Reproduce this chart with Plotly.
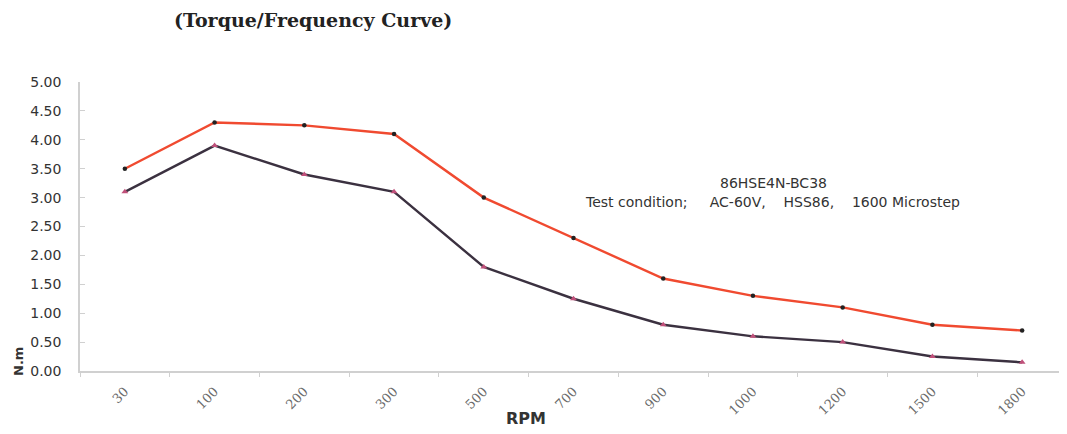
import plotly.graph_objects as go

rpm = ["30", "100", "200", "300", "500", "700", "900", "1000", "1200", "1500", "1800"]
torque_upper = [3.5, 4.3, 4.25, 4.1, 3.0, 2.3, 1.6, 1.3, 1.1, 0.8, 0.7]
torque_lower = [3.1, 3.9, 3.4, 3.1, 1.8, 1.25, 0.8, 0.6, 0.5, 0.25, 0.15]
y_ticks = [0, 0.5, 1, 1.5, 2, 2.5, 3, 3.5, 4, 4.5, 5]

# page body has an 8px margin; work in screen coordinates and convert
OFF = 8
W, H = 1067 - OFF, 434 - OFF
L, T, B, R = 80 - OFF, 82 - OFF, 371 - OFF, 1067 - OFF
PW, PH = R - L, B - T

fig = go.Figure()
fig.add_trace(go.Scatter(
    x=rpm, y=torque_upper, mode="lines+markers",
    line=dict(color="#f04a30", width=2.4),
    marker=dict(symbol="circle", size=4.5, color="#222222"),
    showlegend=False))
fig.add_trace(go.Scatter(
    x=rpm, y=torque_lower, mode="lines+markers",
    line=dict(color="#3b3140", width=2.4),
    marker=dict(symbol="triangle-up", size=6, color="#c0507a"),
    showlegend=False))

fig.update_layout(
    width=W, height=H,
    paper_bgcolor="white", plot_bgcolor="white",
    margin=dict(l=L, r=W - R, t=T, b=H - B, autoexpand=False),
    xaxis=dict(
        type="category", tickson="boundaries", ticks="outside", ticklen=4,
        tickcolor="#d0d0d0", showline=True, linecolor="#d0d0d0", linewidth=1.5,
        showgrid=False, tickangle=-45, automargin=False, ticklabelstandoff=6,
        tickfont=dict(family="DejaVu Serif, serif", size=13, color="#6a6a6a"),
        range=[-0.5, 10.5]),
    yaxis=dict(
        range=[0, 5], tickvals=y_ticks, tickformat=".2f", automargin=False,
        showline=True, linecolor="#d0d0d0", linewidth=1.5, showgrid=False,
        ticks="inside", ticklen=5, tickcolor="#d0d0d0", zeroline=False,
        ticklabelstandoff=14,
        tickfont=dict(family="DejaVu Sans, sans-serif", size=14, color="#333333")),
)

def px(x):
    return (x - OFF - L) / PW

def py(y):
    return (B - (y - OFF)) / PH

fig.add_annotation(text="<b>(Torque/Frequency Curve)</b>", xref="paper", yref="paper",
                   x=px(172), y=py(20), xanchor="left", yanchor="middle",
                   showarrow=False,
                   font=dict(family="DejaVu Serif, serif", size=19, color="#222222"))
fig.add_annotation(text="<b>RPM</b>", xref="paper", yref="paper",
                   x=px(526), y=py(418), xanchor="center", yanchor="middle",
                   showarrow=False,
                   font=dict(family="DejaVu Sans, sans-serif", size=16, color="#333333"))
fig.add_annotation(text="<b>N.m</b>", xref="paper", yref="paper", textangle=-90,
                   x=px(18), y=py(362), xanchor="center", yanchor="middle",
                   showarrow=False,
                   font=dict(family="DejaVu Sans, sans-serif", size=13, color="#333333"))
fig.add_annotation(text="86HSE4N-BC38", xref="paper", yref="paper",
                   x=px(773), y=py(183), xanchor="center", yanchor="middle",
                   showarrow=False,
                   font=dict(family="DejaVu Sans, sans-serif", size=14, color="#333333"))
fig.add_annotation(text="Test condition;&#160;&#160;&#160;&#160; AC-60V,&#160;&#160;&#160; HSS86,&#160;&#160;&#160; 1600 Microstep",
                   xref="paper", yref="paper",
                   x=px(772), y=py(202), xanchor="center", yanchor="middle",
                   showarrow=False,
                   font=dict(family="DejaVu Sans, sans-serif", size=14, color="#333333"))

fig.write_html("out.html")
